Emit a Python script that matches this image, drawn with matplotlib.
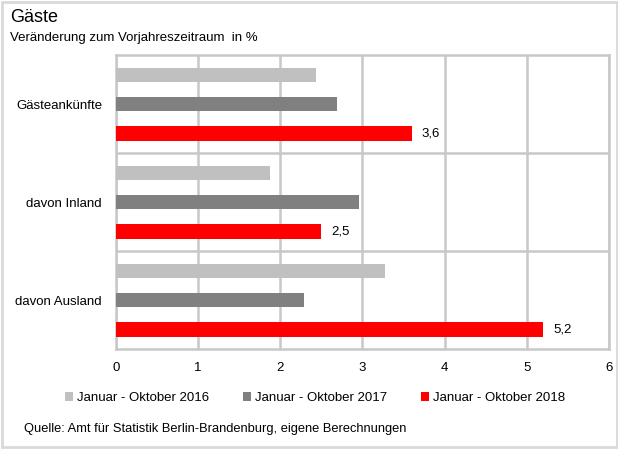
import numpy as np
import matplotlib.pyplot as plt
from matplotlib.patches import Rectangle

plt.rcParams['font.family'] = ['Liberation Sans', 'DejaVu Sans']

# Data
kategorien = ['Gästeankünfte', 'davon Inland', 'davon Ausland']
serien = ['Januar - Oktober 2016', 'Januar - Oktober 2017', 'Januar - Oktober 2018']
werte_2016 = [2.43, 1.87, 3.27]
werte_2017 = [2.69, 2.96, 2.29]
werte_2018 = [3.6, 2.5, 5.2]
farben = ['#c0c0c0', '#808080', '#ff0000']
xticks = [0, 1, 2, 3, 4, 5, 6]

fig = plt.figure(figsize=(6.18, 4.5), dpi=100)
ax = fig.add_axes([0.1877, 0.2244, 0.7977, 0.6533])

# category positions (top to bottom)
pos = np.arange(len(kategorien))
offsets = [-0.3, 0.0, 0.3]
hoehe = 0.145
for werte, off, farbe, name in zip([werte_2016, werte_2017, werte_2018], offsets, farben, serien):
    ax.barh(pos + off, werte, height=hoehe, color=farbe, label=name, zorder=3)

# value labels for 2018
for p, w in zip(pos, werte_2018):
    ax.text(w + 0.12, p + 0.3, f'{w:.1f}'.replace('.', ','), va='center', ha='left',
            fontsize=9.5, color='#000000')

ax.set_xlim(0, 6)
ax.set_ylim(len(kategorien) - 0.5, -0.5)
ax.set_xticks(xticks)
ax.set_xticklabels([str(t) for t in xticks], fontsize=9.5)
ax.set_yticks(pos)
ax.set_yticklabels(kategorien, fontsize=9.5)
ax.tick_params(length=0)
ax.tick_params(axis='y', pad=10)
ax.tick_params(axis='x', pad=9)

# grid
grau = '#c8c8c8'
for t in xticks:
    ax.axvline(t, color=grau, linewidth=1.8, zorder=1)
for b in [0.5, 1.5]:
    ax.axhline(b, color=grau, linewidth=1.8, zorder=1)
for s in ax.spines.values():
    s.set_color(grau)
    s.set_linewidth(1.8)

# titles
fig.text(10 / 618, 1 - 18 / 450, 'Gäste', fontsize=13, va='center', ha='left')
fig.text(10 / 618, 1 - 38 / 450, 'Veränderung zum Vorjahreszeitraum  in %', fontsize=9.5,
         va='center', ha='left')

# legend
fig.legend(loc='center', bbox_to_anchor=(0.51, 1 - 398 / 450), ncol=3, frameon=False,
           fontsize=9.5, handlelength=0.6, handleheight=0.6, handletextpad=0.3,
           columnspacing=2.6)

# source
fig.text(24 / 618, 1 - 429 / 450, 'Quelle: Amt für Statistik Berlin-Brandenburg, eigene Berechnungen',
         fontsize=9.3, va='center', ha='left')

# outer frame
fig.patches.append(Rectangle((0.004, 0.006), 0.995, 0.99, transform=fig.transFigure,
                             fill=False, edgecolor='#d9d9d9', linewidth=2))

fig.savefig('out.png', dpi=100)
